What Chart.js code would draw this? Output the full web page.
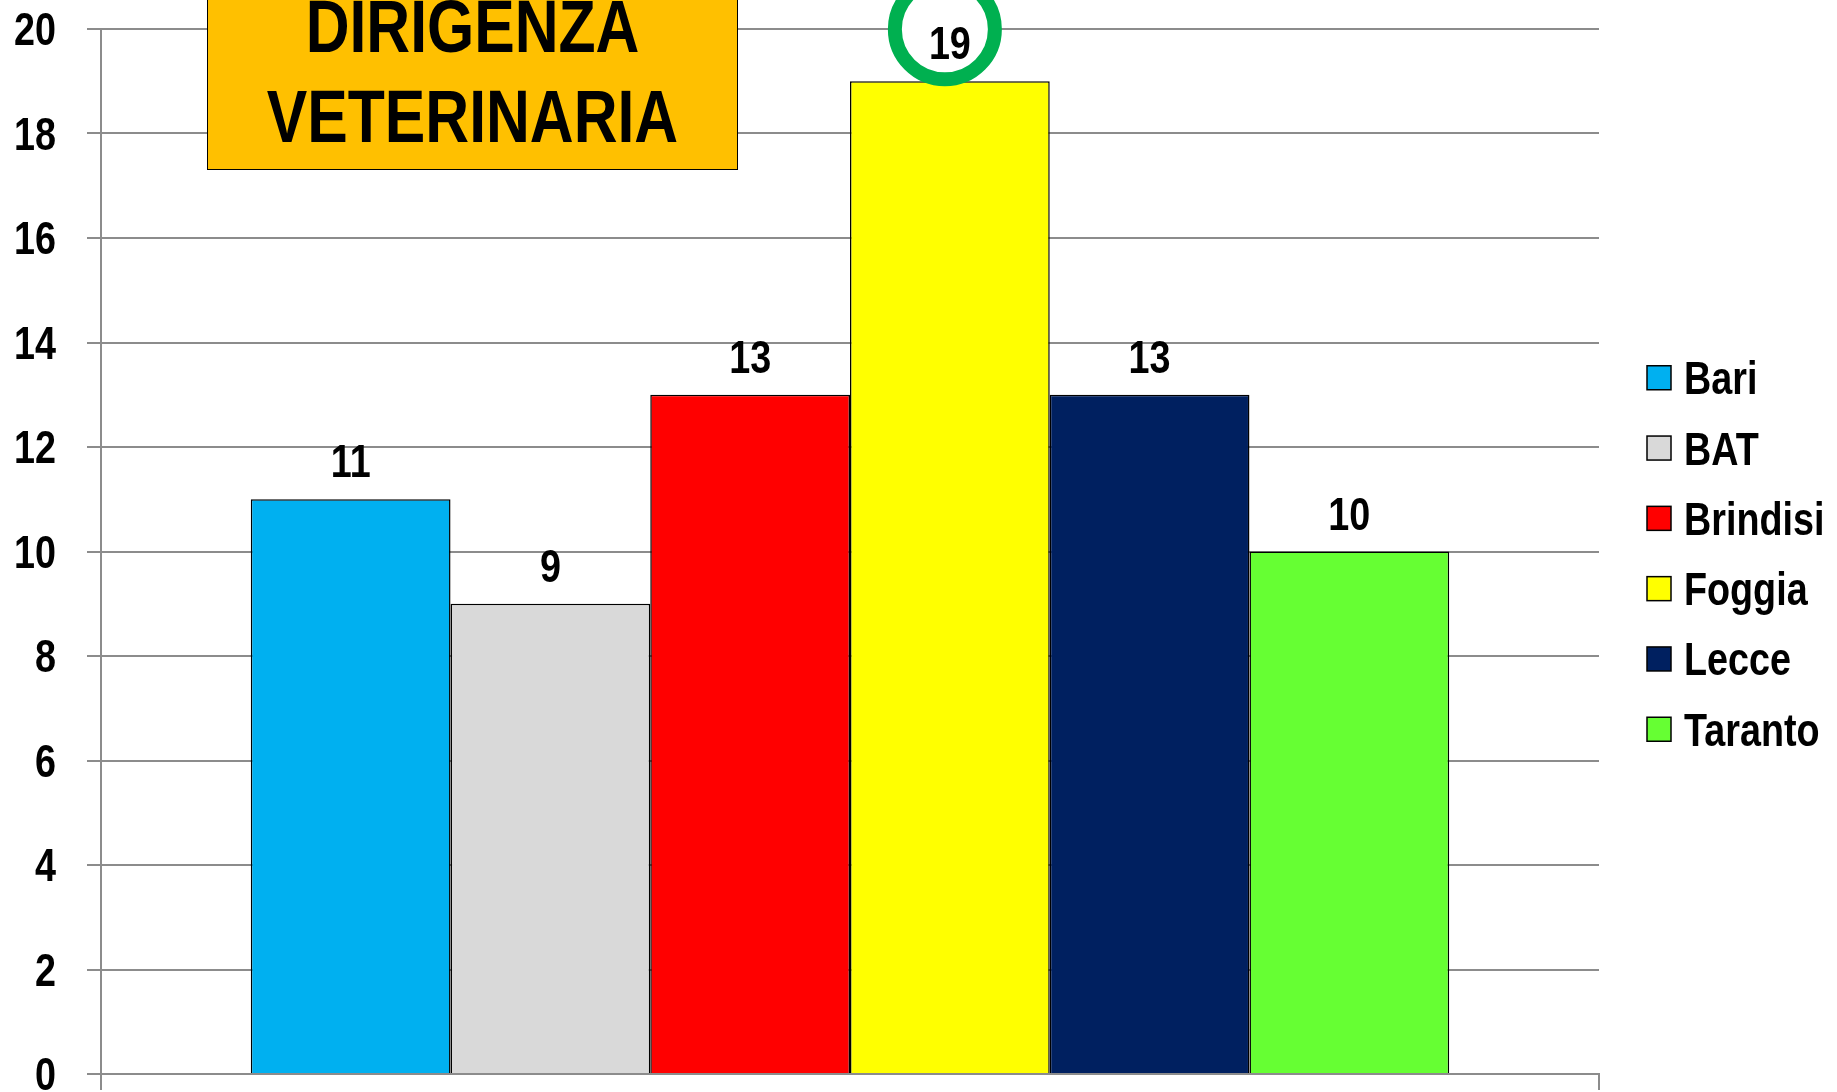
<!DOCTYPE html>
<html>
<head>
<meta charset="utf-8">
<script src="https://cdn.jsdelivr.net/npm/chart.js@4.4.0/dist/chart.umd.min.js"></script>
<style>
  html, body { margin: 0; padding: 0; background: #fff; }
  #wrap { position: relative; width: 1837px; height: 1092px; overflow: hidden; }
  #chart { display: block; }
  #titleBox {
    position: absolute; left: 207px; top: -19px; width: 531px; height: 189px;
    box-sizing: border-box; background: #FFC000; border: 1.5px solid #000;
    font: bold 74px 'Liberation Sans', Arial, sans-serif;
    line-height: 90px; text-align: center; color: #000;
  }
  #titleBox div { transform: scaleX(0.82); white-space: nowrap; }
</style>
</head>
<body>
<div id="wrap">
  <canvas id="chart" width="1837" height="1092"></canvas>
  <div id="titleBox"><div>DIRIGENZA</div><div>VETERINARIA</div></div>
</div>
<script>
  // chart data
  const regions = ['Bari', 'BAT', 'Brindisi', 'Foggia', 'Lecce', 'Taranto'];
  const counts = [11, 9, 13, 19, 13, 10];
  const barColors = ['#00B0F0', '#D9D9D9', '#FF0000', '#FFFF00', '#002060', '#66FF33'];
  const yMin = 0, yMax = 20, yStep = 2;
  const highlighted = 'Foggia';

  const FONT = "'Liberation Sans', Arial, sans-serif";
  const GRID = '#8c8c8c';

  // no narrow font installed, so squeeze Liberation Sans like Arial Narrow
  function narrowText(ctx, text, x, y, size, align) {
    ctx.save();
    ctx.font = 'bold ' + size + 'px ' + FONT;
    ctx.fillStyle = '#000';
    ctx.textAlign = align;
    ctx.textBaseline = 'alphabetic';
    ctx.translate(x, y);
    ctx.scale(0.82, 1);
    ctx.fillText(text, 0, 0);
    ctx.restore();
  }

  // value labels above bars + green ring round the highlighted one
  const valueLabels = {
    id: 'valueLabels',
    afterDatasetsDraw(chart) {
      const ctx = chart.ctx;
      const hi = regions.indexOf(highlighted);
      const hb = chart.getDatasetMeta(hi).data[0];
      if (hb) {
        ctx.save();
        ctx.beginPath();
        ctx.arc(hb.x - 5, hb.y - 52, 50, 0, Math.PI * 2);
        ctx.fillStyle = '#fff';
        ctx.fill();
        ctx.lineWidth = 14;
        ctx.strokeStyle = '#00B050';
        ctx.stroke();
        ctx.restore();
      }
      chart.data.datasets.forEach((ds, i) => {
        const bar = chart.getDatasetMeta(i).data[0];
        if (!bar) return;
        narrowText(ctx, String(ds.data[0]), bar.x, bar.y - 22, 46, 'center');
      });
    }
  };

  // y tick labels and legend, drawn with the narrow text
  const narrowLabels = {
    id: 'narrowLabels',
    afterDraw(chart) {
      const ctx = chart.ctx;
      const ys = chart.scales.y;
      ys.ticks.forEach(t => {
        const py = ys.getPixelForValue(t.value);
        narrowText(ctx, String(t.value), ys.right - 14 - 31, py + 16, 46, 'right');
      });
      const area = chart.chartArea;
      const mid = (area.top + area.bottom) / 2 + 2;
      const rowH = 70.3;
      const boxX = area.right + 48;
      chart.data.datasets.forEach((ds, i) => {
        const cy = mid + (i - (chart.data.datasets.length - 1) / 2) * rowH;
        ctx.save();
        ctx.fillStyle = ds.backgroundColor;
        ctx.strokeStyle = '#000';
        ctx.lineWidth = 1.5;
        ctx.fillRect(boxX, cy - 12, 24, 24);
        ctx.strokeRect(boxX, cy - 12, 24, 24);
        ctx.restore();
        narrowText(ctx, ds.label, boxX + 37, cy + 16.5, 46, 'left');
      });
    }
  };

  const datasets = regions.map((name, i) => ({
    label: name,
    data: [counts[i]],
    backgroundColor: barColors[i],
    borderColor: '#000',
    borderWidth: 1.5
  }));

  new Chart(document.getElementById('chart'), {
    type: 'bar',
    data: { labels: [''], datasets: datasets },
    plugins: [valueLabels, narrowLabels],
    options: {
      responsive: false,
      animation: false,
      categoryPercentage: 0.8,
      barPercentage: 1.0,
      layout: { padding: { left: 14, top: 29, right: 0, bottom: 2 } },
      plugins: {
        tooltip: { enabled: false },
        legend: { display: false }
      },
      scales: {
        x: {
          grid: { drawOnChartArea: false, drawTicks: true, tickLength: 16, color: GRID, lineWidth: 2 },
          border: { color: GRID, width: 2 },
          ticks: { display: false }
        },
        y: {
          min: yMin,
          max: yMax,
          afterFit(scale) { scale.width = 87; },
          ticks: { stepSize: yStep, display: false },
          grid: { color: GRID, lineWidth: 2, tickLength: 14 },
          border: { color: GRID, width: 2 }
        },
        legendSpace: {
          type: 'linear',
          position: 'right',
          display: true,
          min: 0,
          max: 1,
          afterFit(scale) { scale.width = 238; },
          grid: { display: false, drawTicks: false },
          ticks: { display: false },
          border: { display: false }
        }
      }
    }
  });
</script>
</body>
</html>
